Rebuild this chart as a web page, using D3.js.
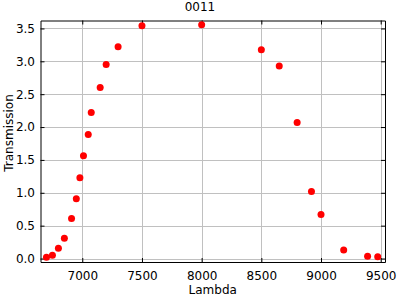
<!DOCTYPE html>
<html>
<head>
<meta charset="utf-8">
<script src="https://cdn.jsdelivr.net/npm/d3@7"></script>
<style>
  body { margin: 0; background: #fff; }
  svg { display: block; font-family: "DejaVu Sans", sans-serif; }
</style>
</head>
<body>
<svg width="400" height="300"></svg>
<script>
// wavelength (x) and transmission (y)
const lambda = [6700, 6750, 6800, 6850, 6910, 6950, 6980, 7010, 7050, 7075, 7150, 7200, 7300, 7500, 8000, 8500, 8650, 8800, 8920, 9000, 9190, 9390, 9475]
const trans = [0.02, 0.05, 0.155, 0.31, 0.61, 0.91, 1.23, 1.565, 1.885, 2.22, 2.6, 2.95, 3.22, 3.54, 3.555, 3.175, 2.93, 2.07, 1.02, 0.67, 0.13, 0.035, 0.025]
const xTicks = [7000, 7500, 8000, 8500, 9000, 9500]
const yTicks = [0, 0.5, 1, 1.5, 2, 2.5, 3, 3.5]

const mLeft = 40.5, mRight = 385, mTop = 20.5, mBottom = 262
const svg = d3.select('svg')

const x = d3.scaleLinear().domain([6650, 9536]).range([mLeft, mRight])
const y = d3.scaleLinear().domain([-0.053, 3.621]).range([mBottom, mTop])

// grid
svg.append('g').selectAll('line').data(xTicks).enter().append('line')
  .attr('x1', d => Math.round(x(d)) + 0.5).attr('x2', d => Math.round(x(d)) + 0.5)
  .attr('y1', mTop).attr('y2', mBottom)
  .attr('stroke', '#c0c0c0')
svg.append('g').selectAll('line').data(yTicks).enter().append('line')
  .attr('y1', d => Math.round(y(d)) + 0.5).attr('y2', d => Math.round(y(d)) + 0.5)
  .attr('x1', mLeft).attr('x2', mRight)
  .attr('stroke', '#c0c0c0')

// axes with inward ticks
const bottomAxis = svg.append('g').attr('transform', `translate(0,${mBottom})`)
  .call(d3.axisBottom(x).tickValues(xTicks).tickSizeInner(-4).tickSizeOuter(0).tickPadding(9.5).tickFormat(d3.format('d')))
const leftAxis = svg.append('g').attr('transform', `translate(${mLeft},0)`)
  .call(d3.axisLeft(y).tickValues(yTicks).tickSizeInner(-4).tickSizeOuter(0).tickPadding(5.5).tickFormat(d3.format('.1f')))
const topAxis = svg.append('g').attr('transform', `translate(0,${mTop})`)
  .call(d3.axisTop(x).tickValues(xTicks).tickSizeInner(-4).tickSizeOuter(0).tickFormat(''))
const rightAxis = svg.append('g').attr('transform', `translate(${mRight},0)`)
  .call(d3.axisRight(y).tickValues(yTicks).tickSizeInner(-4).tickSizeOuter(0).tickFormat(''))

;[bottomAxis, leftAxis, topAxis, rightAxis].forEach(g => {
  g.attr('font-family', null).attr('font-size', 12)
  g.selectAll('text').attr('fill', '#000')
  g.selectAll('line, path').attr('stroke', '#000')
})

// points
svg.append('g').selectAll('circle').data(lambda).enter().append('circle')
  .attr('cx', d => x(d))
  .attr('cy', (d, i) => y(trans[i]))
  .attr('r', 3.5)
  .attr('fill', '#ff0000')

// labels
svg.append('text').attr('x', 200).attr('y', 11).attr('text-anchor', 'middle')
  .attr('font-size', 12).text('0011')
svg.append('text').attr('x', (mLeft + mRight) / 2).attr('y', 294).attr('text-anchor', 'middle')
  .attr('font-size', 12).text('Lambda')
svg.append('text').attr('transform', 'translate(13,133) rotate(-90)')
  .attr('text-anchor', 'middle').attr('font-size', 12).text('Transmission')
</script>
</body>
</html>
